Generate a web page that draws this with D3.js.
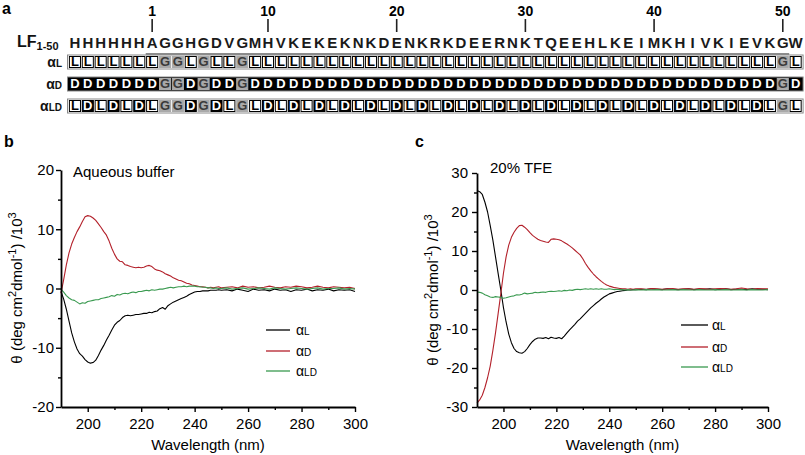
<!DOCTYPE html>
<html><head><meta charset="utf-8">
<script src="https://cdn.jsdelivr.net/npm/d3@7"></script>
<style>
body{margin:0;background:#fff}
svg{display:block;font-family:"Liberation Sans",Arial,Helvetica,sans-serif}
</style>
</head><body>
<svg id="fig" width="805" height="455"></svg>
<script>
// ---------- Panel a data ----------
const sequence = "HHHHHHAGGHGDVGMHVKEKEKNKDENKRKDEERNKTQEEHLKEIMKHIVKIEVKGW".split("");
const rowAlphaL  = ("LLLLLLLGGLGLLG" + "LLLLLLLLLL" + "LLLLLLLLLL" + "LLLLLLLLLL" + "LLLLLLLLLL" + "L" + "GL").split("");
const rowAlphaD  = ("DDDDDDDGGDGDDG" + "DDDDDDDDDD" + "DDDDDDDDDD" + "DDDDDDDDDD" + "DDDDDDDDDD" + "D" + "GD").split("");
const rowAlphaLD = ("LDLDLDLGGDGDLG" + "LDLDLDLDLD" + "LDLDLDLDLD" + "LDLDLDLDLD" + "LDLDLDLDLD" + "L" + "GL").split("");
const residueNumbers = [1, 10, 20, 30, 40, 50];
const rowNames = [["α","L"],["α","D"],["α","LD"]];

// ---------- Panels b, c data ----------
const wavelengths = d3.range(190, 251).concat(d3.range(252, 301, 2));
const xTicks = [200, 220, 240, 260, 280, 300];
const xMinorTicks = [210, 230, 250, 270, 290];
const bYTicks = [-20, -10, 0, 10, 20];
const bYMinor = [-15, -5, 5, 15];
const cYTicks = [-30, -20, -10, 0, 10, 20, 30];
const cYMinor = [-25, -15, -5, 5, 15, 25];
const seriesNames = [["α","L"],["α","D"],["α","LD"]];

const bL = [-0.5,-1.8,-3.5,-5.5,-7.5,-9.0,-10.2,-11.0,-11.4,-12.0,
  -12.4,-12.6,-12.5,-12.1,-11.3,-10.4,-9.6,-8.7,-7.9,-7.0,
  -6.2,-5.7,-5.4,-4.9,-4.6,-4.5,-4.6,-4.5,-4.4,-4.4,
  -4.3,-4.2,-4.2,-4.0,-4.1,-3.9,-3.8,-3.4,-3.2,-3.5,
  -2.9,-2.6,-2.3,-2.1,-1.9,-1.7,-1.5,-1.3,-1.0,-0.8,
  -0.6,-0.5,-0.5,-0.4,-0.4,-0.4,-0.3,-0.3,-0.3,-0.2,
  -0.3,
  -0.2,-0.4,-0.1,-0.3,-0.5,-0.1,-0.3,-0.2,-0.4,-0.1,-0.3,-0.2,-0.5,-0.2,-0.3,-0.1,-0.4,-0.2,-0.3,-0.1,-0.4,-0.2,-0.3,-0.2,-0.5];
const bD = [-0.8,1.5,4.0,6.0,7.5,8.6,9.6,10.4,11.3,12.1,
  12.3,12.2,11.9,11.5,10.9,10.3,9.6,9.0,8.0,6.8,
  5.8,5.0,4.6,4.5,4.0,3.9,3.7,3.6,3.5,3.6,
  3.5,3.6,3.8,3.9,3.7,3.3,3.1,3.0,2.8,2.5,
  2.3,2.1,1.8,1.6,1.4,1.3,1.1,0.9,0.8,0.6,
  0.5,0.4,0.3,0.3,0.2,0.1,0.2,0.1,0.2,0.3,
  0.1,
  0.2,0.3,0.1,0.4,0.2,0.3,0.1,0.2,0.4,0.2,0.1,0.3,0.2,0.4,0.3,0.1,0.2,0.4,0.2,0.1,0.3,0.2,0.1,0.2,0.0];
const bLD = [-0.1,-0.6,-1.2,-1.6,-1.9,-2.0,-2.3,-2.6,-2.4,-2.5,
  -2.2,-2.1,-2.0,-1.9,-1.9,-1.7,-1.6,-1.5,-1.4,-1.2,
  -1.3,-1.0,-1.1,-0.9,-0.8,-0.9,-0.7,-0.6,-0.7,-0.5,
  -0.5,-0.4,-0.3,-0.4,-0.2,-0.3,-0.2,-0.1,-0.1,0.0,
  0.1,0.2,0.1,0.2,0.3,0.3,0.4,0.3,0.4,0.4,
  0.4,0.3,0.3,0.2,0.2,0.1,0.1,0.0,0.1,0.0,
  0.0,
  0.1,-0.1,0.0,0.1,-0.1,0.0,0.1,0.0,-0.1,0.1,0.0,-0.1,0.0,0.1,0.0,-0.1,0.0,0.1,-0.1,0.0,0.0,0.1,-0.1,0.0,-0.1];

const cL = [25.5,25.2,24.5,22.5,20.0,16.5,12.8,8.5,4.2,0.0,
  -4.5,-8.2,-11.3,-13.5,-15.0,-15.8,-16.1,-16.2,-15.8,-15.0,
  -14.0,-13.2,-12.6,-12.3,-12.3,-12.4,-12.2,-12.5,-12.1,-12.3,
  -12.4,-12.2,-12.5,-11.8,-11.0,-10.2,-9.5,-8.8,-8.0,-7.4,
  -6.7,-6.0,-5.3,-4.6,-4.0,-3.4,-2.9,-2.3,-1.8,-1.4,
  -1.0,-0.8,-0.6,-0.4,-0.3,-0.2,-0.1,0.0,0.0,0.1,
  0.1,
  0.2,0.1,0.3,0.2,0.1,0.3,0.2,0.1,0.2,0.3,0.1,0.2,0.2,0.3,0.1,0.2,0.3,0.1,0.2,0.2,0.1,0.3,0.2,0.2,0.1];
const cD = [-29.0,-28.2,-27.0,-25.0,-22.5,-19.5,-15.5,-11.0,-6.0,-1.0,
  4.3,8.5,11.5,13.5,14.8,15.8,16.5,16.6,16.1,15.5,
  14.7,14.0,13.5,13.0,12.7,12.5,12.3,12.2,13.0,13.1,
  13.0,12.9,12.6,12.2,11.8,11.3,10.8,10.2,9.6,9.0,
  8.0,6.8,5.8,4.9,4.1,3.4,2.8,2.2,1.7,1.3,
  1.0,0.8,0.6,0.5,0.4,0.3,0.3,0.2,0.3,0.2,
  0.3,
  0.3,0.2,0.4,0.3,0.2,0.3,0.4,0.2,0.3,0.3,0.2,0.4,0.3,0.2,0.3,0.4,0.3,0.2,0.3,0.5,0.3,0.2,0.4,0.3,0.3];
const cLD = [-0.5,-0.6,-0.8,-1.2,-1.5,-1.8,-1.9,-1.7,-1.8,-1.9,
  -2.1,-2.0,-1.8,-1.6,-1.5,-1.2,-1.3,-1.1,-0.8,-1.0,
  -0.9,-0.8,-0.6,-0.7,-0.6,-0.5,-0.6,-0.4,-0.3,-0.4,
  -0.3,-0.2,-0.3,-0.1,-0.2,0.0,-0.1,0.1,0.2,0.1,
  0.2,0.3,0.2,0.3,0.2,0.3,0.2,0.3,0.2,0.2,
  0.3,0.2,0.1,0.2,0.1,0.1,0.0,0.1,0.0,0.0,
  0.1,
  0.0,0.1,0.0,0.1,0.0,0.0,0.1,0.0,0.1,0.0,0.0,0.1,0.0,0.0,0.1,0.0,0.1,0.0,0.0,0.1,0.0,0.1,0.0,0.0,0.1];

const colors = ["#000000", "#b3202a", "#3a9a50"];

// ---------- Drawing ----------
const svg = d3.select("#fig");

// panel letters
[["a",2,14],["b",4,147],["c",415,147]].forEach(([t,x,y]) =>
  svg.append("text").attr("x",x).attr("y",y).attr("font-weight","bold").attr("font-size",16).text(t));

// ---------- Panel a ----------
(function(){
  const x0 = 68.5, step = 12.87;
  const pos = d3.scaleLinear().domain([0, 1]).range([x0, x0 + step]); // index -> left edge
  const cx = i => pos(i) + step / 2;
  const g = svg.append("g");

  // LF label
  const lf = g.append("text").attr("x",17).attr("y",47).attr("font-weight","bold").attr("font-size",16).attr("fill","#111");
  lf.append("tspan").text("LF");
  lf.append("tspan").attr("font-size",11).attr("dy",3).text("1-50");

  // sequence
  g.selectAll("text.seq").data(sequence).join("text").attr("class","seq")
    .attr("x",(d,i)=>cx(i)).attr("y",48).attr("text-anchor","middle")
    .attr("font-weight","bold").attr("font-size",15).attr("fill","#1a1a1a").text(d=>d);

  // underline residues 1-50
  g.append("line").attr("x1",pos(6)).attr("x2",pos(56)).attr("y1",54).attr("y2",54)
    .attr("stroke","#666").attr("stroke-width",1.5);

  // residue numbers
  residueNumbers.forEach(n => {
    const i = n + 5;
    g.append("line").attr("x1",cx(i)).attr("x2",cx(i)).attr("y1",19).attr("y2",32).attr("stroke","#222").attr("stroke-width",1.6);
    g.append("text").attr("x",cx(i)).attr("y",16).attr("text-anchor","middle").attr("font-weight","bold").attr("font-size",14).text(n);
  });

  const rows = [rowAlphaL, rowAlphaD, rowAlphaLD];
  const tops = [56, 78, 100];
  const h = 12;
  const style = {
    L: {fill:"#fff", stroke:"#000", text:"#000"},
    D: {fill:"#000", stroke:"#000", text:"#fff"},
    G: {fill:"#a9a9a9", stroke:"#a9a9a9", text:"#3a3a3a"}
  };
  rows.forEach((row, r) => {
    const top = tops[r];
    g.append("rect").attr("x",pos(0)-1).attr("y",top-1).attr("width",pos(57)-pos(0)+2).attr("height",h+2)
      .attr("fill", r===1 ? "#000" : "#fff").attr("stroke","#8a8a8a").attr("stroke-width",1);
    const cells = g.selectAll(null).data(row).join("g");
    cells.append("rect")
      .attr("x",(d,i)=>pos(i)+0.9).attr("y",top+0.5).attr("width",step-1.8).attr("height",h-1)
      .attr("fill",d=>style[d].fill).attr("stroke",d=>style[d].stroke).attr("stroke-width",1);
    cells.append("text")
      .attr("x",(d,i)=>cx(i)).attr("y",top+10.3).attr("text-anchor","middle")
      .attr("font-weight","bold").attr("font-size",13).attr("fill",d=>style[d].text).text(d=>d);
    const lab = g.append("text").attr("x",62).attr("y",top+10.5).attr("text-anchor","end")
      .attr("font-weight","bold").attr("font-size",14).attr("fill","#111");
    lab.append("tspan").text(rowNames[r][0]);
    lab.append("tspan").attr("font-size",10).text(rowNames[r][1]);
  });
})();

// ---------- Panels b & c ----------
function drawPanel(o){
  const g = svg.append("g");
  const x = d3.scaleLinear().domain([190, 300]).range(o.xr);
  const y = d3.scaleLinear().domain(o.yd).range(o.yr);
  const yb = o.yr[0];

  const line = d3.line().x(d=>x(d[0])).y(d=>y(d[1]));
  o.series.forEach((s, k) => {
    g.append("path").datum(d3.zip(wavelengths, s)).attr("d", line)
      .attr("fill","none").attr("stroke",colors[k]).attr("stroke-width",1.1).attr("stroke-linejoin","round");
  });

  const xa = g.append("g").attr("transform",`translate(0,${yb})`)
    .call(d3.axisBottom(x).tickValues(xTicks).tickSize(5).tickSizeOuter(0).tickPadding(6).tickFormat(d=>String(d)));
  const xm = g.append("g").attr("transform",`translate(0,${yb})`)
    .call(d3.axisBottom(x).tickValues(xMinorTicks).tickSize(3).tickFormat(""));
  xm.select(".domain").remove();
  const ya = g.append("g").attr("transform",`translate(${o.xr[0]},0)`)
    .call(d3.axisLeft(y).tickValues(o.yTicks).tickSize(5).tickSizeOuter(0).tickPadding(o.ypad).tickFormat(d=>String(d)));
  const ym = g.append("g").attr("transform",`translate(${o.xr[0]},0)`)
    .call(d3.axisLeft(y).tickValues(o.yMinor).tickSize(3).tickFormat(""));
  ym.select(".domain").remove();
  [xa, ya].forEach(a => a.select(".domain").attr("stroke","#000").attr("stroke-width",1.8));
  g.selectAll(".tick line").attr("stroke","#000").attr("stroke-width",1.4);
  g.selectAll(".tick text").attr("font-size",15).attr("fill","#000")
    .attr("font-family","'Liberation Sans',Arial,sans-serif");

  g.append("text").attr("x",(o.xr[0]+o.xr[1])/2).attr("y",450).attr("text-anchor","middle")
    .attr("font-size",15).text("Wavelength (nm)");
  const yt = g.append("text").attr("transform",`translate(${o.ytx},${o.yty}) rotate(-90)`)
    .attr("text-anchor","middle").attr("font-size",15);
  yt.append("tspan").text("θ (deg cm");
  yt.append("tspan").attr("font-size",11).attr("dy",-6).text("2");
  yt.append("tspan").attr("dy",6).text("dmol");
  yt.append("tspan").attr("font-size",11).attr("dy",-6).text("-1");
  yt.append("tspan").attr("dy",6).text(") /10");
  yt.append("tspan").attr("font-size",11).attr("dy",-6).text("3");

  g.append("text").attr("x",o.label[1]).attr("y",o.label[2]).attr("font-size",15).text(o.label[0]);

  seriesNames.forEach((nm, k) => {
    const ly = o.leg.y[k];
    g.append("line").attr("x1",o.leg.x1).attr("x2",o.leg.x2).attr("y1",ly).attr("y2",ly)
      .attr("stroke",colors[k]).attr("stroke-width",1.3);
    const t = g.append("text").attr("x",o.leg.tx).attr("y",ly+4.5).attr("font-size",14);
    t.append("tspan").text(nm[0]);
    t.append("tspan").attr("font-size",10).text(nm[1]);
  });
}

drawPanel({
  xr:[61, 355], yr:[407, 170], yd:[-20, 20], yTicks:bYTicks, yMinor:bYMinor, ypad:2,
  series:[bL, bD, bLD], ytx:22, yty:288,
  label:["Aqueous buffer", 73, 177],
  leg:{x1:266, x2:290, tx:296, y:[330, 351, 371]}
});
drawPanel({
  xr:[477, 768], yr:[407, 173], yd:[-30, 30], yTicks:cYTicks, yMinor:cYMinor, ypad:4,
  series:[cL, cD, cLD], ytx:438, yty:290,
  label:["20% TFE", 490, 173],
  leg:{x1:681, x2:708, tx:712, y:[325, 347, 367]}
});
</script>
</body></html>
